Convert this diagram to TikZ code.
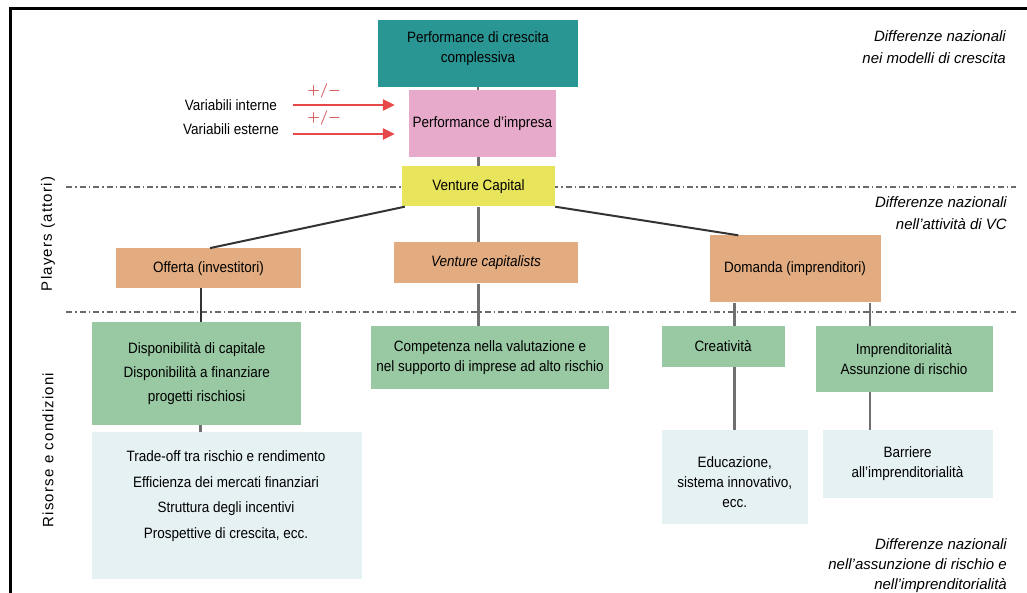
\documentclass[tikz,border=0pt]{standalone}
\usepackage{fontspec}
\usetikzlibrary{arrows.meta}
\setmainfont[FakeStretch=0.9]{Liberation Sans}
\newfontfamily\notefont{Liberation Sans}
\newfontfamily\sidefont[LetterSpace=8]{Liberation Sans}
\definecolor{growthteal}{HTML}{2A9694}
\definecolor{firmpink}{HTML}{E8AACA}
\definecolor{vcyellow}{HTML}{E8E45C}
\definecolor{playerorange}{HTML}{E2AC80}
\definecolor{resgreen}{HTML}{98C9A3}
\definecolor{condblue}{HTML}{E6F1F3}
\definecolor{plusred}{HTML}{E6484A}
\definecolor{linegray}{HTML}{707070}
\definecolor{sepgray}{HTML}{6A6A6A}

\begin{document}
\begin{tikzpicture}[x=1pt,y=-1pt]
\tikzstyle{box}=[rectangle,inner sep=0pt,align=center,font=\fontsize{15}{20}\selectfont]
\tikzstyle{listbox}=[box,font=\fontsize{15}{24}\selectfont]
\tikzstyle{link}=[draw=linegray,line width=2.5pt]
\tikzstyle{diag}=[draw=black!80,line width=2pt]
\tikzstyle{sep}=[draw=sepgray,line width=1.3pt,dash pattern=on 6pt off 3pt on 1.5pt off 3pt]
\tikzstyle{plus}=[draw=plusred,line width=2.5pt,-{Triangle[length=12pt,width=11pt]}]
\tikzstyle{pm}=[inner sep=0pt,text=plusred!90!black,font=\fontsize{15}{18}\selectfont\boldmath]
\tikzstyle{vlabel}=[inner sep=0pt,anchor=east,font=\fontsize{15}{18}\selectfont]
\tikzstyle{note}=[inner sep=0pt,anchor=east,align=right,font=\notefont\itshape\fontsize{15}{22}\selectfont]
\tikzstyle{side}=[inner sep=0pt,rotate=90,font=\sidefont\fontsize{15}{18}\selectfont]
\useasboundingbox (0,0) rectangle (1027,593);

\draw[line width=3pt] (10.5,593) -- (10.5,9) -- (1027,9);
\draw[sep] (66,187) -- (1016,187);
\draw[sep] (66,312) -- (1016,312);

\node[box,fill=growthteal,minimum width=200pt,minimum height=67pt](P) at (478,53.5) {Performance di crescita\\complessiva\rule[-13pt]{0pt}{0pt}};
\node[box,fill=firmpink,minimum width=147pt,minimum height=67pt](I) at (482.5,123.5) {Performance d’impresa};
\node[box,fill=vcyellow,minimum width=153pt,minimum height=40pt](VC) at (478.5,186.5) {Venture Capital};
\node[box,fill=playerorange,minimum width=185pt,minimum height=40pt](O) at (208.5,268.3) {Offerta (investitori)};
\node[box,fill=playerorange,minimum width=184pt,minimum height=41pt](VK) at (486,263) {\textit{Venture capitalists}};
\node[box,fill=playerorange,minimum width=171pt,minimum height=67pt](D) at (795,269) {Domanda (imprenditori)};
\node[listbox,fill=resgreen,minimum width=209pt,minimum height=103pt](DC) at (196.7,373.3) {Disponibilità di capitale\\Disponibilità a finanziare\\progetti rischiosi};
\node[box,fill=resgreen,minimum width=238pt,minimum height=63pt](CV) at (490,357.3) {Competenza nella valutazione e\\nel supporto di imprese ad alto rischio};
\node[box,fill=resgreen,minimum width=123pt,minimum height=41pt](CR) at (723,346.3) {Creatività};
\node[box,fill=resgreen,minimum width=177pt,minimum height=66pt](IM) at (904,359) {Imprenditorialità\\Assunzione di rischio};
\node[box,fill=condblue,minimum width=270pt,minimum height=147pt](TR) at (227,505.7) {};
\node[listbox,font=\fontsize{15}{25.6}\selectfont](TRtxt) at (226,496) {Trade-off tra rischio e rendimento\\Efficienza dei mercati finanziari\\Struttura degli incentivi\\Prospettive di crescita, ecc.};
\node[box,fill=condblue,minimum width=146pt,minimum height=94pt](ED) at (734.7,477) {\rule{0pt}{21pt}Educazione,\\sistema innovativo,\\ecc.};
\node[box,fill=condblue,minimum width=170pt,minimum height=68pt](BA) at (907.5,463.8) {Barriere\\all’imprenditorialità};

\draw[link] (P.south) -- (P.south |- I.north);
\draw[link] (VC.north) -- (VC.north |- I.south);
\draw[link] (VC.south) -- (VC.south |- VK.north);
\draw[diag] ([xshift=3pt]VC.south west) -- ([xshift=1.5pt]O.north);
\draw[diag] (VC.south east) -- ([xshift=29pt]D.north west);
\draw[diag] ([xshift=-8pt]O.south) -- ([xshift=-8pt]O.south |- DC.north);
\draw[link] ([xshift=4pt]DC.south) -- ([xshift=4pt]DC.south |- TR.north);
\draw[link] (VC.south |- VK.south) -- (VC.south |- CV.north);
\draw[link] (ED.north |- D.south) -- (ED.north |- CR.north);
\draw[link] (ED.north |- CR.south) -- (ED.north);
\draw[link] ([xshift=-34pt]IM.north |- D.south) -- ([xshift=-34pt]IM.north);
\draw[link] ([xshift=-34pt]IM.south) -- ([xshift=-34pt]IM.south |- BA.north);

\node[vlabel](VI) at (277,105) {Variabili interne};
\node[vlabel](VE) at (279,129.5) {Variabili esterne};
\draw[plus,shorten >=14pt] ([xshift=16pt]VI.east) -- (VI.east -| I.west) node[pm,pos=0.27,above=6pt]{${+}/{-}$};
\draw[plus,shorten >=14pt] ([xshift=14pt,yshift=-4.5pt]VE.east) -- ([yshift=-4.5pt]VE.east -| I.west) node[pm,pos=0.27,above=8pt]{${+}/{-}$};

\node[note](N1) at (1006,47) {Differenze nazionali\\nei modelli di crescita};
\node[note](N2) at (1007,213) {Differenze nazionali\\nell’attività di VC};
\node[note,font=\notefont\itshape\fontsize{15}{20.3}\selectfont](N3) at (1007,565.5) {Differenze nazionali\\nell’assunzione di rischio e\\nell’imprenditorialità};
\node[side](S1) at (48,234) {Players (attori)};
\node[side](S2) at (48,450) {Risorse e condizioni};
\end{tikzpicture}
\end{document}
